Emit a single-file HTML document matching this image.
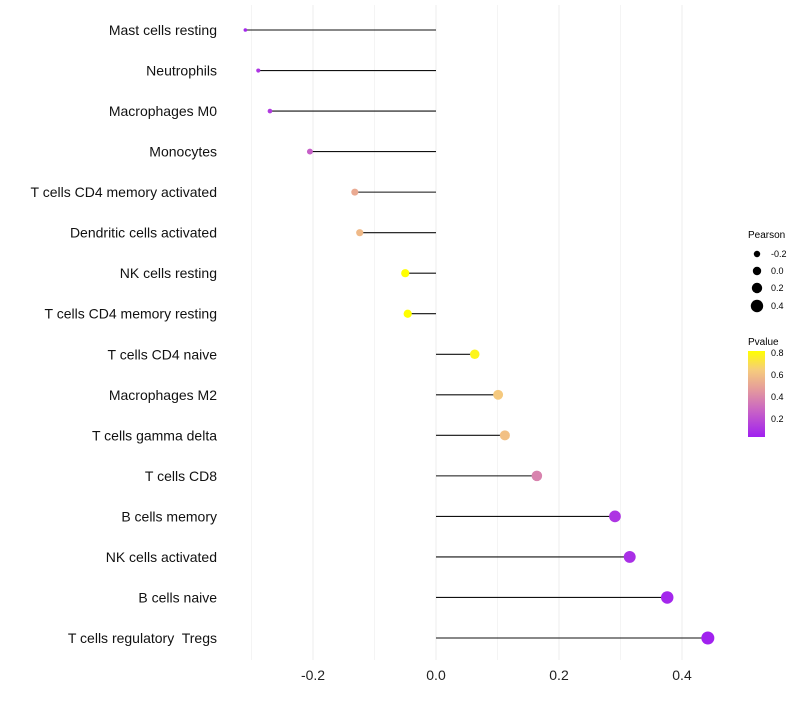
<!DOCTYPE html>
<html><head><meta charset="utf-8"><style>
body{margin:0;background:#fff;font-family:"Liberation Sans",sans-serif}
text{white-space:pre}
</style></head><body>
<svg id="c" width="800" height="700" xmlns="http://www.w3.org/2000/svg" font-family="Liberation Sans, sans-serif">
<defs><linearGradient id="pg" x1="0" y1="1" x2="0" y2="0">
<stop offset="0" stop-color="#A020F0"/><stop offset="0.3" stop-color="#C862C6"/><stop offset="0.55" stop-color="#E49A9C"/><stop offset="0.78" stop-color="#F6CC7C"/><stop offset="1" stop-color="#FFFF00"/>
</linearGradient></defs>
<g id="grid"></g><g id="marks"></g><g id="labels"></g>
<g font-size="9" fill="#000">
<text x="748" y="238" font-size="10">Pearson</text>
<circle cx="757" cy="254" r="3.2"/><text x="771" y="257">-0.2</text>
<circle cx="757" cy="271" r="4.2"/><text x="771" y="274">0.0</text>
<circle cx="757" cy="288" r="5.2"/><text x="771" y="291">0.2</text>
<circle cx="757" cy="306" r="6.2"/><text x="771" y="309">0.4</text>
</g>
<g font-size="9" fill="#000">
<text x="748" y="345" font-size="10">Pvalue</text>
<rect x="748" y="351" width="17" height="86" fill="url(#pg)"/>
<text x="771" y="356">0.8</text><text x="771" y="378">0.6</text>
<text x="771" y="400">0.4</text><text x="771" y="422">0.2</text>
</g>
</svg>
<script>
const categories=["Mast cells resting","Neutrophils","Macrophages M0","Monocytes","T cells CD4 memory activated","Dendritic cells activated","NK cells resting","T cells CD4 memory resting","T cells CD4 naive","Macrophages M2","T cells gamma delta","T cells CD8","B cells memory","NK cells activated","B cells naive","T cells regulatory  Tregs"];
const pearson=[-0.31,-0.289,-0.27,-0.205,-0.132,-0.124,-0.05,-0.046,0.063,0.101,0.112,0.164,0.291,0.315,0.376,0.442];
const pvalues=[0.05,0.1,0.12,0.25,0.55,0.6,0.85,0.85,0.78,0.65,0.62,0.4,0.1,0.08,0.05,0.03];
const xTicks=[-0.2,0,0.2,0.4];
const xTickLabels=["-0.2","0.0","0.2","0.4"];
const xMinor=[-0.3,-0.1,0.1,0.3];
const NS="http://www.w3.org/2000/svg";
const X=v=>436+v*615;
const Y=i=>30+i*(608/15);
const R=v=>Math.sqrt(Math.max(2.5,3.24+(v+0.31)*52));
const stops=[[0.027,[160,32,240]],[0.26,[200,98,198]],[0.5,[228,154,156]],[0.66,[246,204,124]],[0.81,[255,255,0]]];
function col(p){if(p<=stops[0][0])return rgb(stops[0][1]);for(let k=1;k<stops.length;k++){if(p<=stops[k][0]){const t=(p-stops[k-1][0])/(stops[k][0]-stops[k-1][0]);return rgb(stops[k-1][1].map((c,j)=>c+(stops[k][1][j]-c)*t));}}return rgb(stops[stops.length-1][1]);}
function rgb(a){return "rgb("+a.map(Math.round).join(",")+")";}
function mk(t,a,p){const e=document.createElementNS(NS,t);for(const k in a)e.setAttribute(k,a[k]);p.appendChild(e);return e;}
const g=document.getElementById("grid"),m=document.getElementById("marks"),lb=document.getElementById("labels");
xMinor.forEach(v=>{const l=mk("line",{x1:X(v),x2:X(v),y1:5,y2:660,stroke:"#f4f4f4","stroke-width":1},g);

});
xTicks.forEach((v,i)=>{const l=mk("line",{x1:X(v),x2:X(v),y1:5,y2:660,stroke:"#eeeeee","stroke-width":1},g);


const t=mk("text",{x:X(v),y:680,"text-anchor":"middle","font-size":14,fill:"#222"},lb);t.textContent=xTickLabels[i];

});
categories.forEach((c,i)=>{const y=Y(i);
const t=mk("text",{x:217,y:y+5,"text-anchor":"end","font-size":14,fill:"#111"},lb);t.textContent=c;


const l=mk("line",{x1:X(0),x2:X(pearson[i]),y1:y,y2:y,stroke:"#111","stroke-width":1.1},m);


const d=mk("circle",{cx:X(pearson[i]),cy:y,r:R(pearson[i]),fill:col(pvalues[i])},m);

});
</script>
</body></html>
